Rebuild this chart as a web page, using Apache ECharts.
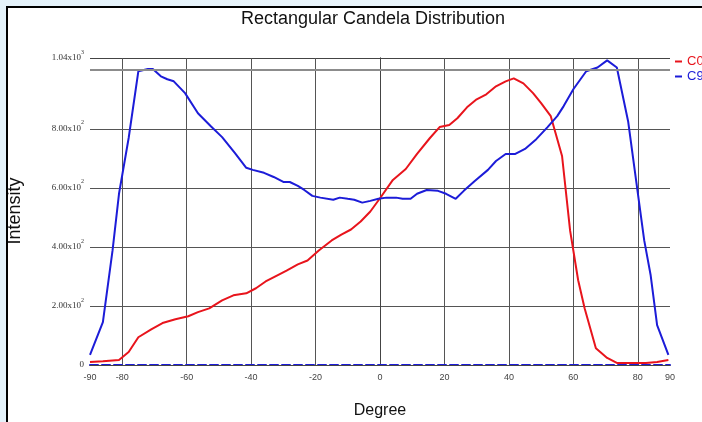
<!DOCTYPE html>
<html>
<head>
<meta charset="utf-8">
<script src="https://cdn.jsdelivr.net/npm/echarts@6/dist/echarts.min.js"></script>
<style>
  html, body { margin: 0; padding: 0; }
  body { width: 702px; height: 422px; overflow: hidden; background: linear-gradient(90deg, #e4f2fa, #eef7fc); }
  #chart { position: absolute; left: 6px; top: 6px; width: 694px; height: 414px;
           border-left: 2px solid #000; border-top: 2px solid #000; background: #fff; }
</style>
</head>
<body>
<div id="chart"></div>
<script>
// C0 plane
var c0Deg = [-90, -86, -81, -78, -75, -71, -67.5, -63.5, -59.5, -56.5, -53, -49, -45.5, -41.5, -38.5, -35.5, -32, -29, -25.5, -22.5,
  -19, -15, -12, -9, -6, -3, 0, 4, 8, 11.5, 15.5, 18.5, 21.5, 24, 27, 30, 33, 36, 39, 41.5,
  44.5, 47.5, 50, 53, 56.5, 59, 61.5, 63.5, 67, 70.5, 73.5, 78, 82.5, 86, 89.5];
var c0Val = [10, 13, 17, 44, 94, 121, 142, 155, 165, 179, 192, 219, 236, 243, 260, 283, 303, 320, 341, 354,
  388, 422, 442, 459, 486, 520, 565, 627, 664, 715, 769, 806, 813, 836, 873, 900, 917, 944, 961, 971,
  954, 921, 887, 843, 708, 455, 287, 192, 57, 24, 7, 7, 7, 10, 17];
// C90 plane
var c90Deg = [-90, -86, -83, -81, -78, -75, -72, -70.5, -68, -66, -64, -60.5, -56.5, -52.5, -49, -45, -41.5, -39.5, -36, -33,
  -30, -28, -25.5, -23.5, -21, -18.5, -14.5, -12.5, -10, -8, -5.5, -3, -0.5, 2, 5, 7, 9.5, 11.5, 14.5, 18,
  20.5, 23.5, 26, 29.5, 33.5, 36, 39, 42, 45, 48.5, 52, 55, 57, 60, 64, 67.5, 70.5, 73.5, 77, 79.5,
  82, 84, 86, 89.5];
var c90Val = [34, 145, 388, 580, 769, 995, 1003, 1003, 978, 968, 961, 921, 853, 809, 772, 718, 668, 661, 651, 637,
  620, 620, 607, 593, 573, 567, 560, 567, 563, 560, 550, 556, 563, 567, 567, 563, 563, 580, 593, 590,
  580, 563, 590, 624, 661, 691, 715, 715, 732, 765, 806, 843, 877, 934, 995, 1008, 1032, 1008, 826, 624,
  422, 304, 135, 34];

var xLabels = [-90, -80, -60, -40, -20, 0, 20, 40, 60, 80, 90];
var yLabels = {0: '0', 200: '2.00x10|2', 400: '4.00x10|2', 600: '6.00x10|2', 800: '8.00x10|2', 1040: '1.04x10|3'};

function pairs(xs, ys) {
  return xs.map(function (x, i) { return [x, ys[i]]; });
}

var chart = echarts.init(document.getElementById('chart'));
var font = '"Liberation Sans", Arial, sans-serif';

var option = {
  animation: false,
  grid: { left: 82, top: 50, right: 32, bottom: 57, show: false },
  legend: {
    orient: 'vertical', left: 667, top: 47, padding: 0, itemWidth: 7, itemHeight: 2, itemGap: 2, icon: 'rect',
    textStyle: { fontFamily: font, fontSize: 13 },
    data: [
      { name: 'C0', textStyle: { color: '#e8141c' } },
      { name: 'C90', textStyle: { color: '#1c1cd8' } }
    ]
  },
  graphic: [
    { type: 'text', x: 365, y: 11, style: { text: 'Rectangular Candela Distribution', font: '18px ' + font, fill: '#111', textAlign: 'center', textVerticalAlign: 'middle' } },
    { type: 'text', x: 7, y: 203, rotation: Math.PI / 2, style: { text: 'Intensity', font: '18px ' + font, fill: '#111', textAlign: 'center', textVerticalAlign: 'middle' } },
    { type: 'text', x: 372, y: 403, style: { text: 'Degree', font: '16px ' + font, fill: '#111', textAlign: 'center', textVerticalAlign: 'middle' } }
  ],
  xAxis: [{
    type: 'value', min: -90, max: 90, interval: 10,
    axisLine: { show: true, onZero: false, lineStyle: { color: '#1c1cd8', type: 'dashed', width: 2 } },
    axisTick: { show: false },
    axisLabel: {
      margin: 8, fontSize: 9, fontFamily: font, color: '#444',
      formatter: function (v) { return xLabels.indexOf(v) >= 0 ? String(v) : ''; }
    },
    splitLine: { show: true, lineStyle: { color: ['transparent', '#555'], width: 1 } }
  }, {
    type: 'value', min: -90, max: 90, position: 'top',
    axisLine: { show: true, lineStyle: { color: '#444', width: 1 } },
    axisTick: { show: false }, axisLabel: { show: false }, splitLine: { show: false }
  }],
  yAxis: [{
    type: 'value', min: 0, max: 1040, interval: 200,
    axisLine: { show: true, lineStyle: { color: '#444', width: 1 } },
    axisTick: { show: false },
    axisLabel: {
      margin: 6, showMaxLabel: true,
      formatter: function (v) {
        var s = yLabels[v];
        if (s === undefined) return '';
        if (s.indexOf('|') < 0) return '{a|' + s + '}';
        var p = s.split('|');
        return '{a|' + p[0] + '}{s|' + p[1] + '}';
      },
      rich: {
        a: { fontSize: 9, fontFamily: 'serif', color: '#333', lineHeight: 18, verticalAlign: 'middle' },
        s: { fontSize: 6, fontFamily: 'serif', color: '#333', lineHeight: 8, verticalAlign: 'top' }
      }
    },
    splitLine: { show: true, lineStyle: { color: ['#555', '#555', '#555', '#555', '#555', 'transparent', '#444'], width: 1 } }
  }, {
    type: 'value', min: 0, max: 1040, position: 'right',
    axisLine: { show: true, lineStyle: { color: '#444', width: 1 } },
    axisTick: { show: false }, axisLabel: { show: false }, splitLine: { show: false }
  }],
  series: [{
    name: 'C0', type: 'line', showSymbol: false, symbol: 'none',
    lineStyle: { color: '#e8141c', width: 2 }, itemStyle: { color: '#e8141c' },
    data: pairs(c0Deg, c0Val),
    markLine: {
      silent: true, symbol: 'none', label: { show: false },
      lineStyle: { color: '#8c8c8c', width: 2, type: 'solid' },
      data: [{ yAxis: 1000 }]
    }
  }, {
    name: 'C90', type: 'line', showSymbol: false, symbol: 'none',
    lineStyle: { color: '#1c1cd8', width: 2 }, itemStyle: { color: '#1c1cd8' },
    data: pairs(c90Deg, c90Val)
  }]
};
chart.setOption(option);
</script>
</body>
</html>
